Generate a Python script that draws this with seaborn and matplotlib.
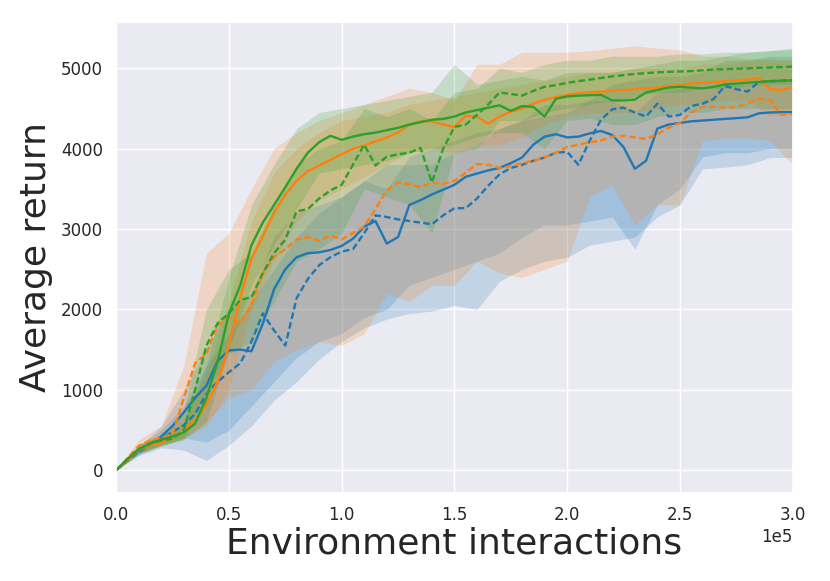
import numpy as np
import pandas as pd
import matplotlib
matplotlib.use("Agg")
import matplotlib.pyplot as plt
import seaborn as sns

# mean curves, sampled every 5k interactions
steps = list(range(0, 300001, 5000))

blue_solid = [0, 130, 240, 320, 420, 550, 720, 900, 1050, 1360, 1490, 1500, 1480, 1820, 2250, 2500,
              2650, 2700, 2710, 2740, 2790, 2880, 3030, 3100, 2820, 2900, 3300, 3360, 3430, 3490, 3550,
              3650, 3690, 3730, 3760, 3820, 3890, 4050, 4150, 4180, 4140, 4150, 4190, 4220, 4170, 4020,
              3750, 3850, 4250, 4300, 4320, 4340, 4350, 4360, 4370, 4380, 4390, 4440, 4450, 4455, 4455]
blue_dashed = [0, 120, 230, 310, 380, 480, 560, 700, 950, 1100, 1220, 1330, 1600, 1950, 1740, 1550,
               2140, 2380, 2550, 2650, 2720, 2750, 2950, 3170, 3150, 3120, 3100, 3080, 3060, 3170, 3260,
               3260, 3380, 3540, 3680, 3760, 3800, 3850, 3890, 3950, 3960, 3800, 4100, 4360, 4490, 4510,
               4450, 4400, 4560, 4400, 4420, 4530, 4560, 4620, 4780, 4740, 4710, 4830, 4840, 4845, 4850]
orange_solid = [0, 120, 250, 310, 340, 400, 510, 620, 820, 1100, 1550, 2150, 2630, 2910, 3200, 3430,
                3600, 3720, 3790, 3860, 3930, 4000, 4040, 4090, 4140, 4200, 4300, 4340, 4340, 4300, 4270,
                4410, 4400, 4310, 4400, 4460, 4500, 4560, 4610, 4640, 4670, 4690, 4700, 4710, 4720, 4730,
                4740, 4750, 4760, 4780, 4790, 4810, 4820, 4830, 4840, 4850, 4860, 4880, 4740, 4730, 4770]
orange_dashed = [0, 150, 300, 370, 400, 450, 900, 1330, 1450, 1800, 1900, 1820, 2050, 2450, 2650, 2750,
                 2870, 2900, 2850, 2920, 2870, 2950, 3030, 3250, 3480, 3580, 3560, 3520, 3580, 3560, 3600,
                 3700, 3810, 3800, 3760, 3780, 3820, 3850, 3890, 3950, 4020, 4050, 4080, 4100, 4150, 4160,
                 4140, 4120, 4180, 4260, 4320, 4450, 4520, 4520, 4510, 4520, 4560, 4620, 4600, 4420, 4430]
green_solid = [0, 140, 260, 330, 380, 420, 470, 580, 900, 1350, 1950, 2300, 2800, 3080, 3300, 3520,
               3750, 3950, 4080, 4160, 4110, 4150, 4180, 4200, 4230, 4260, 4300, 4330, 4360, 4370, 4400,
               4450, 4480, 4510, 4540, 4470, 4530, 4520, 4400, 4620, 4650, 4660, 4665, 4670, 4600, 4600,
               4610, 4700, 4730, 4760, 4770, 4760, 4750, 4770, 4800, 4810, 4820, 4830, 4840, 4845, 4850]
green_dashed = [0, 130, 260, 330, 370, 390, 500, 1000, 1550, 1830, 1950, 2120, 2150, 2450, 2700, 2870,
                3220, 3250, 3380, 3480, 3550, 3800, 4050, 3790, 3900, 3930, 3950, 4010, 3580, 4000, 4270,
                4300, 4420, 4550, 4700, 4680, 4660, 4720, 4770, 4790, 4820, 4840, 4860, 4880, 4900, 4915,
                4930, 4940, 4950, 4955, 4960, 4965, 4975, 4985, 4990, 4995, 5000, 5005, 5010, 5015, 5020]

# shaded bands, sampled every 10k interactions
band_steps = list(range(0, 300001, 10000))

blue_solid_lo = [0, 200, 320, 400, 350, 500, 800, 1100, 1400, 1600, 1700, 1900, 2000, 2300, 2400, 2500,
                 2600, 2700, 2900, 3050, 3050, 3100, 3150, 2750, 3300, 3500, 3900, 3950, 3950, 4000, 4000]
blue_solid_hi = [0, 290, 550, 1000, 1500, 2000, 2200, 2900, 3200, 3300, 3400, 3600, 3500, 3900, 4000, 4100,
                 4200, 4250, 4350, 4550, 4550, 4600, 4600, 4450, 4700, 4750, 4750, 4800, 4800, 4850, 4850]
blue_dashed_lo = [0, 180, 280, 250, 120, 310, 550, 870, 1100, 1380, 1600, 1770, 1880, 1950, 1980, 2050,
                  2000, 2350, 2500, 2600, 2650, 2800, 2850, 2900, 3150, 3300, 3750, 3770, 3800, 3890, 3890]
blue_dashed_hi = [0, 300, 500, 800, 1300, 1700, 2100, 2500, 2900, 3200, 3400, 3600, 3800, 3800, 3800, 3950,
                  4050, 4250, 4350, 4400, 4450, 4600, 4800, 4850, 4900, 4900, 4950, 5100, 5100, 5150, 5150]
orange_solid_lo = [0, 210, 300, 400, 550, 1000, 2000, 2600, 3100, 3350, 3500, 3650, 3800, 3950, 4000, 3950,
                   4050, 4050, 4150, 4300, 4400, 4450, 4450, 4450, 4500, 4550, 4550, 4600, 4600, 4400, 4450]
orange_solid_hi = [0, 290, 400, 650, 1200, 2100, 3100, 3700, 4000, 4200, 4350, 4400, 4450, 4550, 4600, 4650,
                   4700, 4750, 4800, 4850, 4900, 4950, 4950, 5000, 5000, 5000, 5050, 5050, 5100, 5100, 5100]
orange_dashed_lo = [0, 230, 300, 400, 600, 900, 1000, 1350, 1500, 1600, 1550, 1700, 2200, 2100, 2300, 2300,
                    2600, 2450, 2400, 2500, 2600, 3400, 3550, 3050, 3300, 3300, 4100, 4130, 4130, 4100, 3800]
orange_dashed_hi = [0, 380, 550, 1300, 2700, 2950, 3500, 4000, 4200, 4350, 4450, 4550, 4650, 4750, 4700, 4600,
                    5050, 5050, 5200, 5200, 5200, 5220, 5250, 5280, 5250, 5230, 5150, 5150, 5120, 5120, 5100]
green_solid_lo = [0, 200, 320, 380, 600, 1500, 2300, 2800, 3250, 3700, 3750, 3800, 3850, 3950, 4000, 4050,
                  4150, 4200, 4200, 4000, 4350, 4380, 4300, 4300, 4400, 4450, 4450, 4500, 4500, 4500, 4500]
green_solid_hi = [0, 320, 430, 580, 1300, 2400, 3300, 3800, 4250, 4450, 4500, 4550, 4600, 4650, 4700, 5050,
                  4800, 4850, 4900, 4850, 4950, 4950, 4950, 5000, 5050, 5100, 5100, 5150, 5200, 5220, 5250]
green_dashed_lo = [0, 200, 300, 380, 1000, 1450, 1600, 2100, 2600, 2750, 2950, 3500, 3400, 3300, 2950, 3950,
                   4000, 4350, 4350, 4450, 4500, 4550, 4600, 4650, 4700, 4700, 4750, 4750, 4780, 4800, 4800]
green_dashed_hi = [0, 330, 430, 750, 2000, 2500, 2700, 3300, 3800, 4000, 4100, 4500, 4400, 4500, 4350, 4700,
                   4750, 5000, 4950, 5050, 5100, 5100, 5150, 5150, 5150, 5180, 5180, 5200, 5200, 5220, 5230]

curves = [
    ("A", "solid", blue_solid, blue_solid_lo, blue_solid_hi),
    ("A", "dashed", blue_dashed, blue_dashed_lo, blue_dashed_hi),
    ("B", "solid", orange_solid, orange_solid_lo, orange_solid_hi),
    ("B", "dashed", orange_dashed, orange_dashed_lo, orange_dashed_hi),
    ("C", "solid", green_solid, green_solid_lo, green_solid_hi),
    ("C", "dashed", green_dashed, green_dashed_lo, green_dashed_hi),
]

sns.set_theme(style="darkgrid")
palette = dict(zip(["A", "B", "C"], sns.color_palette("tab10", 3)))

rows = []
for agent, variant, mean, lo, hi in curves:
    for s, v in zip(steps, mean):
        rows.append({"step": s, "return": v, "agent": agent, "variant": variant})
df = pd.DataFrame(rows)

fig, ax = plt.subplots(figsize=(8.3, 5.81), dpi=100)

# bands first, then the mean lines on top
for agent, variant, mean, lo, hi in curves:
    ax.fill_between(band_steps, lo, hi, color=palette[agent], alpha=0.2, linewidth=0)

sns.lineplot(data=df, x="step", y="return", hue="agent", style="variant",
             hue_order=["A", "B", "C"], style_order=["solid", "dashed"],
             palette=palette, dashes={"solid": "", "dashed": (2.8, 1.4)},
             linewidth=1.7, legend=False, ax=ax)

ax.set_xlim(0, 300000)
ax.set_ylim(-280, 5575)
ax.set_yticks([0, 1000, 2000, 3000, 4000, 5000])
ax.ticklabel_format(axis="x", style="sci", scilimits=(0, 0))
ax.tick_params(labelsize=12)
ax.xaxis.get_offset_text().set_fontsize(12)
ax.set_xlabel("Environment interactions", fontsize=26, labelpad=2)
ax.set_ylabel("Average return", fontsize=26, labelpad=6)

fig.subplots_adjust(left=0.14, right=0.955, bottom=0.152, top=0.962)
fig.savefig("out.png", dpi=100)
